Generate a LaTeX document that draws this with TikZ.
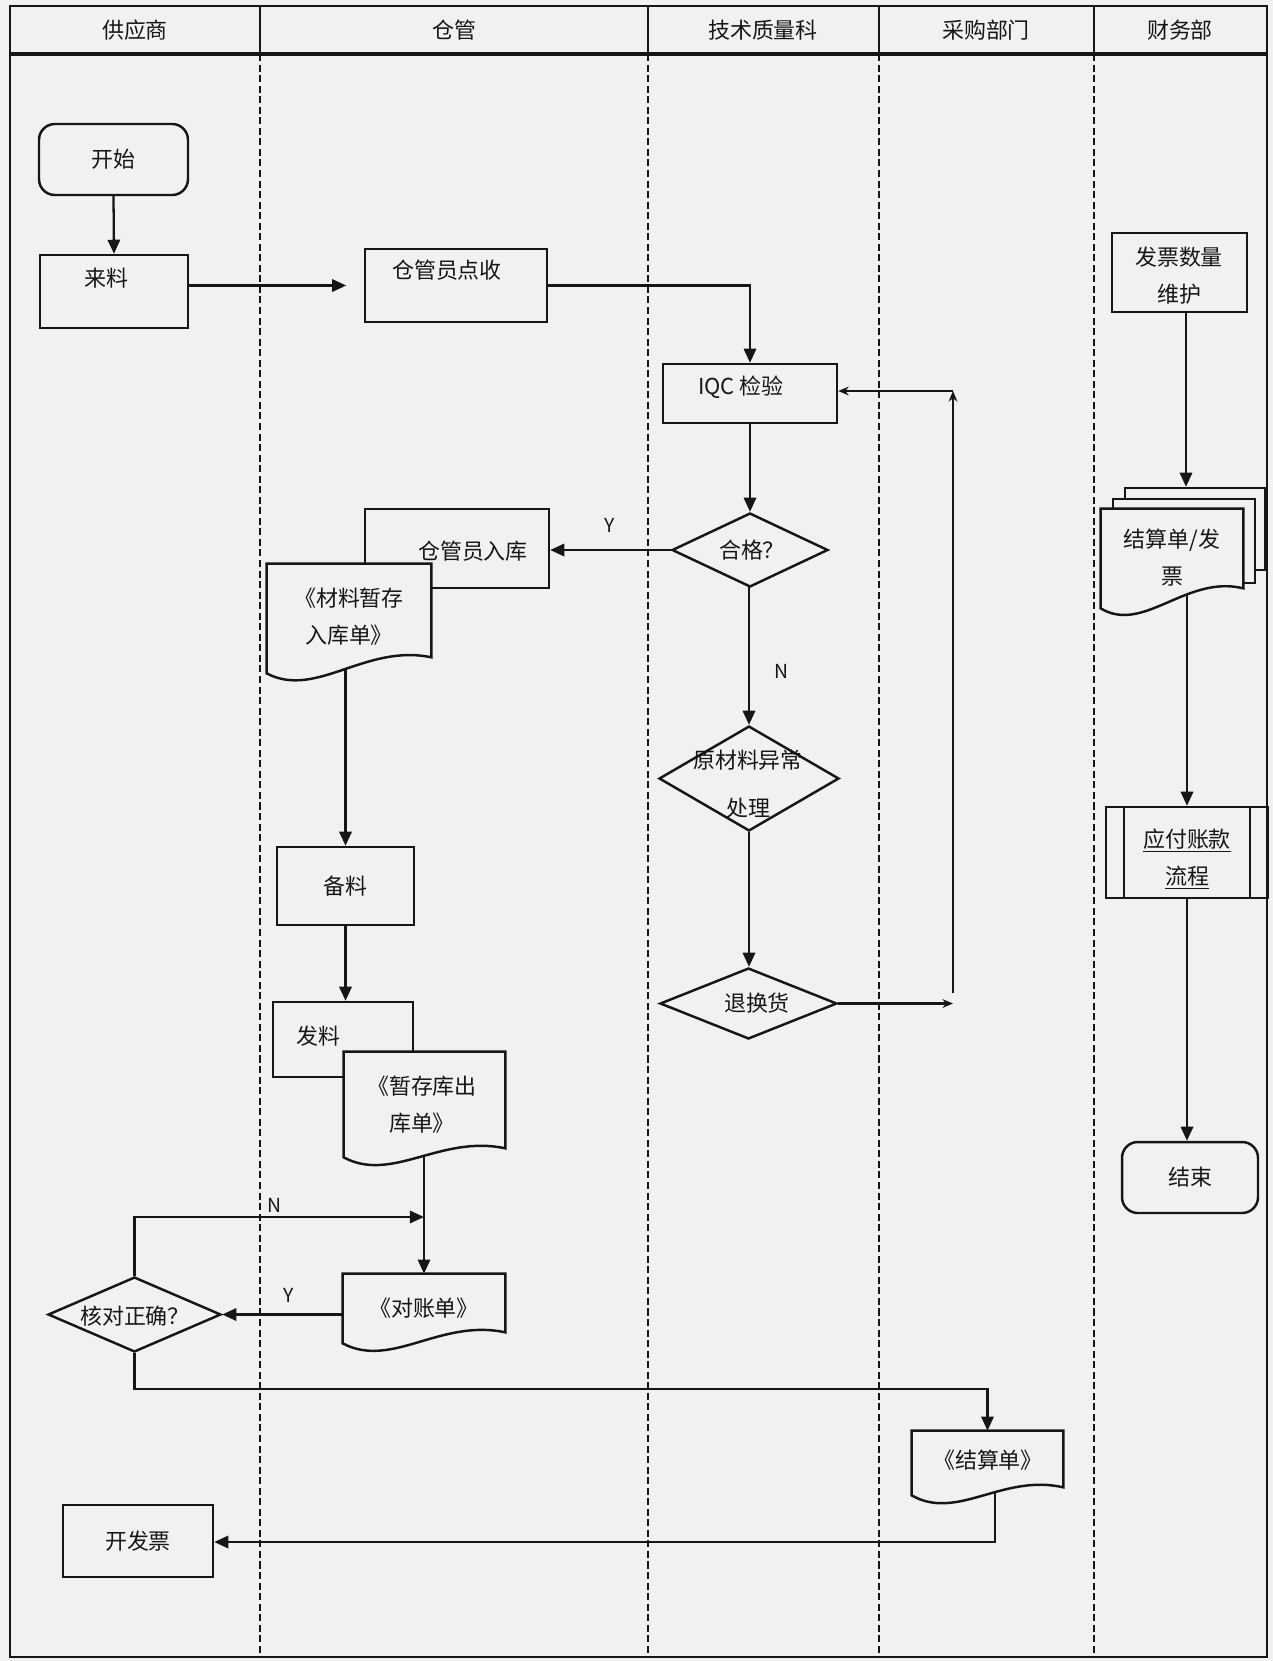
\documentclass[tikz,border=0pt]{standalone}
\usepackage{fontspec}
\setmainfont{Noto Sans CJK SC}
\usetikzlibrary{shapes.geometric,arrows.meta,calc,backgrounds}
\definecolor{paper}{RGB}{241,241,239}
\definecolor{ink}{RGB}{22,22,22}
\newcommand{\docshape}[2]{%
  \draw[shp] (#1.north west) -- (#1.north east) -- ($(#1.south east)+(0,-#2)$)
  .. controls ($(#1.south east)!0.4!(#1.south west)+(0,-#2-14)$) and ($(#1.south east)!0.7!(#1.south west)+(0,26)$) .. (#1.south west) -- cycle;}
\tikzset{
  shp/.style={draw=ink, fill=paper, line width=1.4pt},
  box/.style={shp, rectangle, inner sep=0pt},
  term/.style={box, rounded corners=9pt},
  dia/.style={shp, diamond, inner sep=0pt},
  docn/.style={rectangle, inner sep=0pt},
  txt/.style={inner sep=0pt, align=center},
  lab/.style={inner sep=0pt, font=\fontsize{11}{13}\selectfont},
  arr/.style={draw=ink, line width=1.3pt, -{Triangle[length=8pt,width=7pt]}},
  arrs/.style={draw=ink, line width=1.2pt, -{Stealth[length=6pt,width=5pt]}},
  lane/.style={draw=ink, line width=0.7pt, dash pattern=on 4pt off 2pt},
  sz/.style 2 args={minimum width=#1cm, minimum height=#2cm},
}
\begin{document}
\begin{tikzpicture}[x=0.02cm, y=-0.02cm, font=\fontsize{12.5}{21}\selectfont, text=ink]
\useasboundingbox (0,0) rectangle (1273,1661);

% header labels
\node[txt] (h1) at (135,30) {供应商};
\node[txt] (h2) at (454,30) {仓管};
\node[txt] (h3) at (763,30) {技术质量科};
\node[txt] (h4) at (986,30) {采购部门};
\node[txt] (h5) at (1180,30) {财务部};

% supplier lane
\node[term, sz={2.98}{1.42}] (start) at (113.5,159.5) {开始};
\node[box, sz={2.96}{1.46}] (laiiao) at (114,291.5) {};
\node[txt] (laiiaoT) at (106,278) {来料};

% warehouse
\node[box, sz={3.64}{1.46}] (dianshou) at (456,285.5) {};
\node[txt] (dianshouT) at (447,270) {仓管员点收};

\node[box, sz={3.68}{1.58}] (ruku) at (457,548.5) {};
\node[txt] (rukuT) at (473,551) {仓管员入库};

\node[docn, sz={3.28}{2.18}] (doc1) at (349,618.5) {};
\docshape{doc1}{16}
\node[txt] (doc1T) at (349,616.5) {《材料暂存\\入库单》};

\node[box, sz={2.74}{1.56}] (beiliao) at (345.5,886) {备料};

\node[box, sz={2.8}{1.5}] (faliao) at (343,1039.5) {};
\node[txt] (faliaoT) at (318,1036) {发料};

\node[docn, sz={3.22}{2.1}] (doc2) at (424.5,1104.5) {};
\docshape{doc2}{9}
\node[txt] (doc2T) at (422,1105) {《暂存库出\\库单》};

\node[docn, sz={3.24}{1.38}] (duizhang) at (424,1308.5) {};
\docshape{duizhang}{11}
\node[txt] (duizhangT) at (424,1308) {《对账单》};

\node[dia, sz={3.46}{1.5}] (hedui) at (134.5,1314.5) {};
\node[txt] (heduiT) at (135,1316) {核对正确？};

\node[box, sz={3.0}{1.44}] (kaifapiao) at (138,1541) {开发票};

% quality
\node[box, sz={3.48}{1.18}] (iqc) at (750,393.5) {};
\node[txt] (iqcT) at (741,387) {IQC 检验};

\node[dia, sz={3.12}{1.48}] (hege) at (750,550) {};
\node[txt] (hegeT) at (752,550) {合格？};

\node[dia, sz={3.6}{2.1}] (yichang) at (749,778.5) {};
\node[txt, font=\fontsize{12.5}{27.3}\selectfont] (yichangT) at (748,784) {原材料异常\\处理};

\node[dia, sz={3.54}{1.42}] (tuihuan) at (748.5,1003.5) {};
\node[txt] (tuihuanT) at (757,1003) {退换货};

% purchasing
\node[docn, sz={3.02}{1.28}] (jiesuan) at (987.5,1463) {};
\docshape{jiesuan}{8}
\node[txt] (jiesuanT) at (988,1460) {《结算单》};

% finance
\node[box, sz={2.7}{1.58}] (fapiao) at (1179.5,272.5) {};
\node[txt] (fapiaoT) at (1179,275.5) {发票数量\\维护};

\node[box, sz={2.8}{1.64}] (mdback) at (1195,529) {};
\node[box, sz={2.84}{1.68}] (mdmid) at (1184,541) {};
\node[docn, sz={2.84}{1.98}] (mdfront) at (1172,558.5) {};
\docshape{mdfront}{20}
\node[txt] (mdfrontT) at (1172,557.5) {结算单/发\\票};

\node[box, sz={3.24}{1.82}] (yingfu) at (1187,852.5) {};
\draw[line width=1.4pt, draw=ink] ($(yingfu.north west)+(19,0)$) -- ($(yingfu.south west)+(19,0)$);
\draw[line width=1.4pt, draw=ink] ($(yingfu.north east)+(-19,0)$) -- ($(yingfu.south east)+(-19,0)$);
\node[txt] (yingfuT) at (1187,859) {\underline{应付账款}\\\underline{流程}};

\node[term, sz={2.72}{1.42}] (finish) at (1190,1177.5) {结束};

% branch labels
\node[lab] (lY1) at (610,525) {Y};
\node[lab] (lN1) at (781,671) {N};
\node[lab] (lN2) at (274,1205) {N};
\node[lab] (lY2) at (289,1295) {Y};

% frame
\draw[line width=1.6pt, draw=ink] (10,6) rectangle (1267,1657);
\draw[line width=2.2pt, draw=ink] (10,54) -- (1267,54);
\foreach \xx in {260,648,879,1094} {
  \draw[line width=1.1pt, draw=ink] (\xx,6) -- (\xx,54);
}

\begin{pgfonlayer}{background}
  \fill[paper] (0,0) rectangle (1273,1661);
  \foreach \xx in {260,648,879,1094} {
    \draw[lane] (\xx,54) -- (\xx,1657);
  }
  \coordinate (loopB) at (953,1003.5);
  \coordinate (loopS) at (953,993);
  \coordinate (loopT) at (953,391);
  \coordinate (nJoin) at (424,1217);
  \coordinate (ylev) at (0,1389);
  \coordinate (kx) at (995,1542);
  \coordinate (fx) at (1186,0);

  \draw[arr] (start.south) -- (laiiao.north);
  \draw[arr, shorten >=10pt] (laiiao.east |- dianshou.west) -- (dianshou.west);
  \draw[arr] (dianshou.east) -| (iqc.north);
  \draw[arr] (iqc.south) -- (hege.north);
  \draw[arr] (hege.west) -- (hege.west -| ruku.east);
  \draw[arr] (hege.south) -- (yichang.south |- hege.south) -- (yichang.north);
  \draw[arr] (yichang.south) -- (yichang.south |- tuihuan.north);
  \draw[arrs] (tuihuan.east) -- (loopB);
  \draw[arrs] (loopS) -- (loopT);
  \draw[arrs] (loopT) -- (loopT -| iqc.east);
  \draw[arr] ($(beiliao.north |- doc1.south)+(0,-20)$) -- (beiliao.north);
  \draw[arr] (beiliao.south) -- (beiliao.south |- faliao.north);
  \draw[arr] ($(duizhang.north |- doc2.south)+(0,-20)$) -- (duizhang.north);
  \draw[arr] (duizhang.west |- hedui.east) -- (hedui.east);
  \draw[arr] (hedui.north) |- (nJoin);
  \draw[arr] (hedui.south) |- (jiesuan.north |- ylev) -- (jiesuan.north);
  \draw[arr] ($(kx |- jiesuan.south)+(0,-20)$) -- (kx) -- (kx -| kaifapiao.east);
  \draw[arr] (fx |- fapiao.south) -- (fx |- mdback.north);
  \draw[arr] ($(yingfu.north |- mdfront.south)+(0,-20)$) -- (yingfu.north);
  \draw[arr] (yingfu.south) -- (yingfu.south |- finish.north);
\end{pgfonlayer}
\end{tikzpicture}
\end{document}
